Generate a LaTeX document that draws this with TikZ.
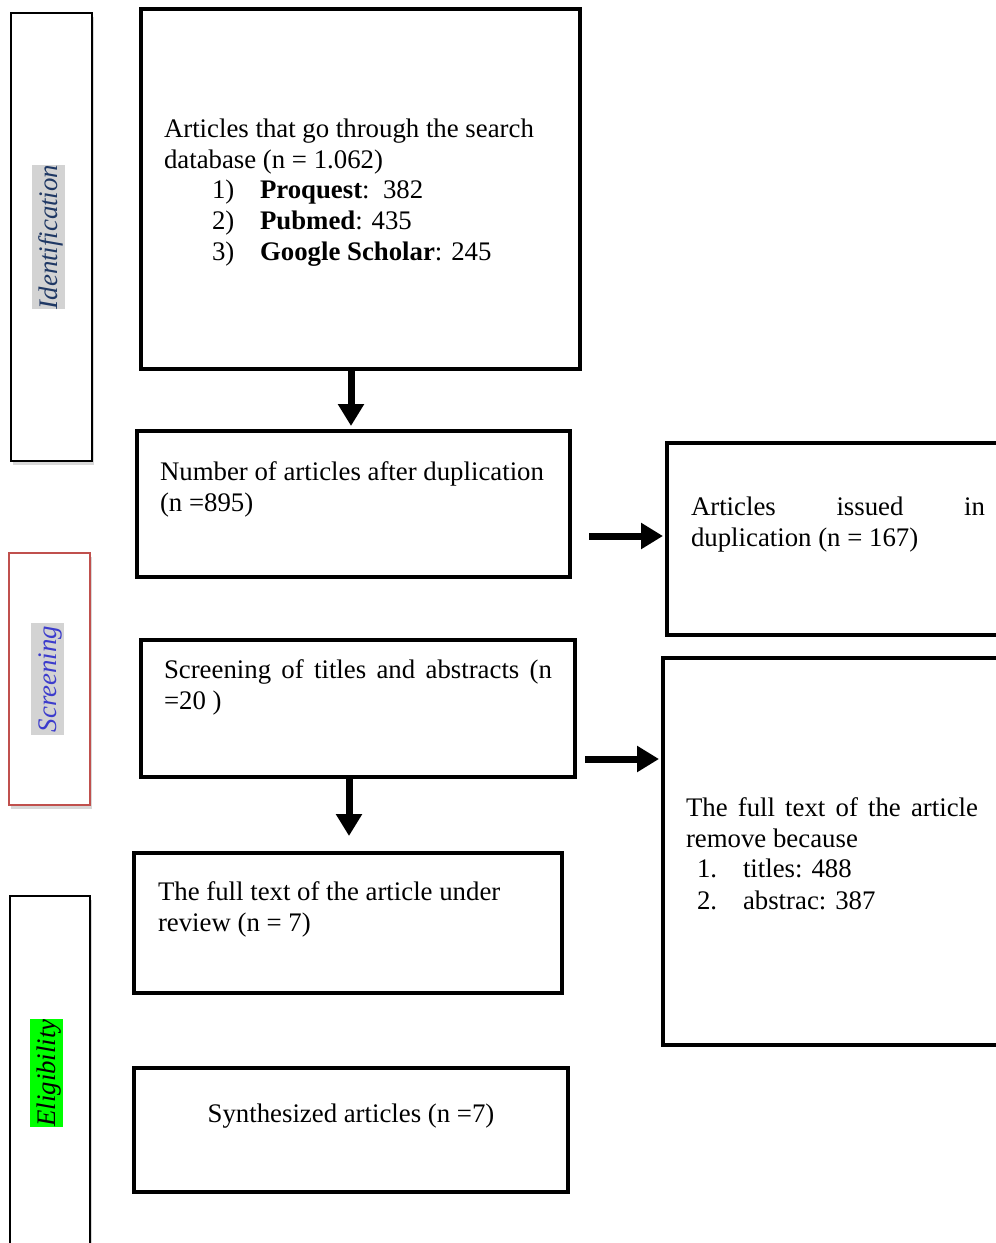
\documentclass[tikz,border=0pt]{standalone}
\usepackage{fontspec}
\setmainfont{Liberation Serif}
\usetikzlibrary{arrows.meta,shadows,calc}
\definecolor{idnavy}{HTML}{1F3864}
\definecolor{scrblue}{HTML}{3C3CCC}
\definecolor{scrred}{HTML}{C0504D}
\definecolor{hlgray}{HTML}{D3D3D3}
\definecolor{hlgreen}{HTML}{00FF00}
\begin{document}
\begin{tikzpicture}[x=1pt,y=-1pt,
  font=\fontsize{26.8}{31}\selectfont,
  box/.style={draw, fill=white, line width=4.3pt, anchor=north west, inner sep=0pt, outer sep=0pt,
    drop shadow={shadow xshift=1.5pt, shadow yshift=-2pt, opacity=0.2}},
  sidebox/.style={draw, fill=white, line width=2.5pt, anchor=north west, inner sep=0pt, outer sep=0pt,
    drop shadow={shadow xshift=2pt, shadow yshift=-4pt, opacity=0.3}},
  sidelabel/.style={rotate=90, inner sep=0pt, text height=25pt, text depth=8pt, font=\fontsize{26.8}{31}\selectfont\itshape},
  txt/.style={anchor=base west, inner sep=0pt, outer sep=0pt},
  arr/.style={line width=7pt, -{Triangle[width=25pt,length=22pt]}}
]
\clip (0,0) rectangle (996,1243);
\fill[white] (0,0) rectangle (996,1243);

% side boxes
\node[sidebox, minimum width=81pt, minimum height=448pt] (s1) at (11,13) {};
\node[sidebox, draw=scrred, minimum width=81pt, minimum height=252pt] (s2) at (9,553) {};
\node[sidebox, minimum width=80pt, minimum height=364pt] (s3) at (10,896) {};
\node[sidelabel, fill=hlgray, text=idnavy] (l1) at (48.5,237) {Identification};
\node[sidelabel, fill=hlgray, text=scrblue, inner xsep=3pt] (l2) at (47.5,679) {Screening};
\node[sidelabel, fill=hlgreen, text=black] (l3) at (46.5,1073) {Eligibility};

% main boxes
\node[box, minimum width=439pt, minimum height=360pt] (b1) at (141,9) {};
\node[box, minimum width=433pt, minimum height=146pt] (b2) at (137,431) {};
\node[box, minimum width=343pt, minimum height=192pt] (b3) at (667,443) {};
\node[box, minimum width=434pt, minimum height=137pt] (b4) at (141,640) {};
\node[box, minimum width=347pt, minimum height=387pt] (b5) at (663,658) {};
\node[box, minimum width=428pt, minimum height=140pt] (b6) at (134,853) {};
\node[box, minimum width=434pt, minimum height=124pt] (b7) at (134,1068) {};

% texts box 1
\node[txt] (t1a) at (164,137) {Articles that go through the search};
\node[txt] (t1b) at (164,168) {database (n = 1.062)};
\node[txt] (t1c) at (212,198) {1)};
\node[txt] (t1d) at (260,198) {\textbf{Proquest}:\ \ 382};
\node[txt] (t1e) at (212,229) {2)};
\node[txt] (t1f) at (260,229) {\textbf{Pubmed}: 435};
\node[txt] (t1g) at (212,260) {3)};
\node[txt] (t1h) at (260,260) {\textbf{Google Scholar}: 245};

% box 2
\node[txt] (t2a) at (160,480) {Number of articles after duplication};
\node[txt] (t2b) at (160,511) {(n =895)};

% box 3
\node[txt] (t3a) at (691,515) {\makebox[294pt][l]{Articles\hfill issued\hfill in}};
\node[txt] (t3b) at (691,546) {duplication (n = 167)};

% box 4
\node[txt] (t4a) at (164,678) {\makebox[388pt][l]{Screening\hfill of\hfill titles\hfill and\hfill abstracts\hfill (n}};
\node[txt] (t4b) at (164,709) {=20 )};

% box 5
\node[txt] (t5a) at (686,816) {\makebox[292pt][l]{The\hfill full\hfill text\hfill of\hfill the\hfill article}};
\node[txt] (t5b) at (686,847) {remove because};
\node[txt] (t5c) at (697,877) {1.};
\node[txt] (t5d) at (743,877) {titles: 488};
\node[txt] (t5e) at (697,909) {2.};
\node[txt] (t5f) at (743,909) {abstrac: 387};

% box 6
\node[txt] (t6a) at (158,900) {The full text of the article under};
\node[txt] (t6b) at (158,931) {review (n = 7)};

% box 7
\node[anchor=base, inner sep=0pt] (t7a) at (351,1122) {Synthesized articles (n =7)};

% arrows
\coordinate (d1) at (351,0);
\coordinate (d2) at (349,0);
\coordinate (a1s) at (589,536);
\coordinate (a2s) at (585,759);
\draw[arr, shorten >=5pt] (b1.south -| d1) -- (b2.north -| d1);
\draw[arr, shorten >=4pt] (a1s) -- (b3.west |- a1s);
\draw[arr, shorten >=4pt] (a2s) -- (b5.west |- a2s);
\draw[arr, shorten >=17pt] (b4.south -| d2) -- (b6.north -| d2);
\end{tikzpicture}
\end{document}
